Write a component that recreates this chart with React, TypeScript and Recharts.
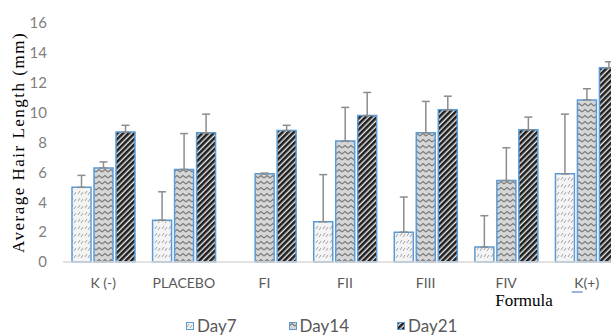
import React from 'react'
import { BarChart, Bar, XAxis, YAxis, ErrorBar, Legend, Label } from 'recharts'

const categories = ['K (-)', 'PLACEBO', 'FI', 'FII', 'FIII', 'FIV', 'K(+)']
const day7 = [5.0, 2.8, null, 2.7, 2.0, 1.0, 5.9]
const day14 = [6.3, 6.2, 5.9, 8.1, 8.65, 5.45, 10.85]
const day21 = [8.7, 8.65, 8.8, 9.8, 10.2, 8.85, 13.0]
const err7 = [0.8, 1.9, null, 3.15, 2.35, 2.1, 4.0]
const err14 = [0.4, 2.4, 0.05, 2.25, 2.1, 2.2, 0.75]
const err21 = [0.45, 1.25, 0.35, 1.55, 0.9, 0.85, 0.4]
const yTicks = [0, 2, 4, 6, 8, 10, 12, 14, 16]

const data = categories.map((name, i) => ({
  name,
  day7: day7[i],
  day14: day14[i],
  day21: day21[i],
  e7: err7[i] == null ? null : [0, err7[i]],
  e14: [0, err14[i]],
  e21: [0, err21[i]]
}))

const BORDER = '#5b9bd5'
const ERR = '#8c8c8c'

const series = [
  { key: 'day7', err: 'e7', name: 'Day7', fill: 'url(#patDay7)' },
  { key: 'day14', err: 'e14', name: 'Day14', fill: 'url(#patDay14)' },
  { key: 'day21', err: 'e21', name: 'Day21', fill: 'url(#patDay21)' }
]

// x tick, with the odd blue underline under K(+)
const XTick = ({ x, y, payload }: any) => (
  <g>
    <text
      x={x}
      y={y + 26}
      textAnchor="middle"
      fill="#595959"
      fontSize={14}
      fontFamily="Lato, sans-serif"
    >
      {payload.value}
    </text>
    {payload.value === 'K(+)' && (
      <line x1={x - 15} x2={x - 4} y1={y + 30} y2={y + 30} stroke="#4060c0" strokeWidth={1} />
    )}
  </g>
)

const LegendBox = () => (
  <div style={{ display: 'flex', fontFamily: 'Lato, sans-serif', fontSize: 17, lineHeight: '14px', color: '#595959' }}>
    {series.map((s, i) => (
      <div key={s.key} style={{ display: 'flex', alignItems: 'center', marginRight: i === 0 ? 52 : 48 }}>
        <svg width={8} height={8} style={{ marginRight: 3 }}>
          <rect x={0.5} y={0.5} width={7} height={7} fill={s.fill} stroke={BORDER} strokeWidth={1} />
        </svg>
        <span>{s.name}</span>
      </div>
    ))}
  </div>
)

export default function App() {
  return (
    <div style={{ position: 'fixed', top: 0, left: 0, width: 611, height: 335, overflow: 'hidden', background: '#fff' }}>
      <BarChart
        width={627}
        height={335}
        data={data}
        margin={{ top: 23, right: 0, left: 0, bottom: 0 }}
        barCategoryGap={9}
        barGap={3}
      >
        <defs>
          <pattern id="patDay7" patternUnits="userSpaceOnUse" width={7} height={7}>
            <rect width={7} height={7} fill="#f4f4f4" />
            <path d="M1 5 L3 2 M4 6 L6 3" stroke="#9a9a9a" strokeWidth={0.9} />
          </pattern>
          <pattern id="patDay14" patternUnits="userSpaceOnUse" width={6} height={6}>
            <rect width={6} height={6} fill="#d6d6d6" />
            <path d="M0 4 L3 1.5 L6 4" fill="none" stroke="#7a7a7a" strokeWidth={1.1} />
          </pattern>
          <pattern id="patDay21" patternUnits="userSpaceOnUse" width={4} height={4} patternTransform="rotate(45)">
            <rect width={4} height={4} fill="#e8e8e8" />
            <rect width={2.6} height={4} fill="#1e1e1e" />
          </pattern>
        </defs>
        <XAxis
          dataKey="name"
          axisLine={{ stroke: '#d9d9d9', strokeWidth: 1.5 }}
          tickLine={false}
          tickSize={0}
          tickMargin={0}
          height={73}
          interval={0}
          tick={<XTick />}
        >
          <Label
            value="Formula"
            position="insideBottom"
            offset={29}
            dx={179}
            fill="#000"
            fontSize={17}
            fontFamily="'Liberation Serif', 'Times New Roman', serif"
          />
        </XAxis>
        <YAxis
          domain={[0, 16]}
          ticks={yTicks}
          axisLine={false}
          tickLine={false}
          tickSize={0}
          tickMargin={16}
          width={63}
          tick={{ fill: '#7f7f7f', fontSize: 15, fontFamily: 'Lato, sans-serif' }}
        >
          <Label
            value="Average Hair Length (mm)"
            angle={-90}
            position="insideLeft"
            offset={18}
            fill="#000"
            fontSize={17}
            letterSpacing={1.5}
            fontFamily="'Liberation Serif', 'Times New Roman', serif"
            style={{ textAnchor: 'middle' }}
          />
        </YAxis>
        <Legend
          verticalAlign="middle"
          layout="horizontal"
          wrapperStyle={{ top: 319, left: 186, width: 340 }}
          content={<LegendBox />}
        />
        {series.map((s) => (
          <Bar
            key={s.key}
            dataKey={s.key}
            name={s.name}
            fill={s.fill}
            stroke={BORDER}
            strokeWidth={1.5}
            isAnimationActive={false}
          >
            <ErrorBar dataKey={s.err} width={4} stroke={ERR} strokeWidth={1.5} />
          </Bar>
        ))}
      </BarChart>
    </div>
  )
}
